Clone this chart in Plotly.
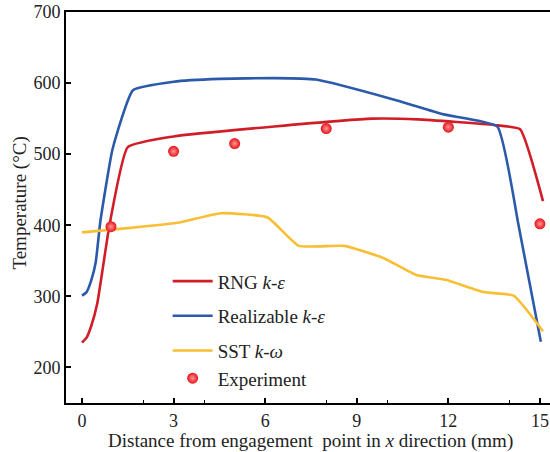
import plotly.graph_objects as go

# Temperature profiles along x (mm) from the engagement point
rng_x = [0.0, 0.15, 0.3, 0.5, 0.7, 0.9, 1.5, 3.0, 6.3, 9.5, 11.0, 13.5, 14.35, 15.1]
rng_t = [235, 242, 258, 290, 345, 400, 510, 525, 539, 550, 549, 541, 535, 434]

real_x = [0.0, 0.15, 0.3, 0.45, 0.6, 1.0, 1.67, 3.0, 4.5, 6.3, 7.66, 10.2, 11.84, 13.6, 14.3, 15.03]
real_t = [301, 306, 322, 348, 405, 507, 590, 602, 606, 607, 605, 577, 556, 539, 400, 236]

sst_x = [0.0, 1.5, 3.2, 4.54, 6.08, 7.1, 8.6, 9.87, 10.95, 11.94, 13.16, 14.14, 15.1]
sst_t = [390, 396, 404, 417, 411, 371, 371, 354, 330, 323, 306, 301, 251]

exp_x = [0.95, 3.0, 5.0, 8.0, 12.0, 15.0]
exp_t = [398, 504, 515, 536, 538, 402]

x_ticks = [0, 3, 6, 9, 12, 15]
y_ticks = [200, 300, 400, 500, 600, 700]

FONT = "Liberation Serif"
TXT = "#222"
RED = "rgb(208,30,40)"
BLUE = "rgb(44,90,170)"
YELLOW = "rgb(248,190,52)"

fig = go.Figure()
fig.add_trace(go.Scatter(x=rng_x, y=rng_t, mode="lines", name="RNG <i>k</i>-<i>ε</i>",
                         legendgroup="a",
                         line=dict(color=RED, width=2.6, shape="spline", smoothing=0.4)))
fig.add_trace(go.Scatter(x=real_x, y=real_t, mode="lines", name="Realizable <i>k</i>-<i>ε</i>",
                         legendgroup="b",
                         line=dict(color=BLUE, width=2.6, shape="spline", smoothing=0.4)))
fig.add_trace(go.Scatter(x=sst_x, y=sst_t, mode="lines", name="SST <i>k</i>-<i>ω</i>",
                         legendgroup="c",
                         line=dict(color=YELLOW, width=2.6, shape="spline", smoothing=0.4)))
fig.add_trace(go.Scatter(x=exp_x, y=exp_t, mode="markers", name="Experiment",
                         legendgroup="c",
                         marker=dict(size=11, color="rgb(230,18,24)",
                                     gradient=dict(type="radial", color="rgb(255,150,150)"),
                                     line=dict(width=0))))

axis_common = dict(
    showline=True, linecolor="black", linewidth=2,
    ticks="inside", ticklen=5, tickwidth=1.5, tickcolor="black",
    showgrid=False, zeroline=False, automargin=False,
    tickfont=dict(family=FONT, size=18, color=TXT),
    minor=dict(ticks="inside", ticklen=3, tickwidth=1.2, tickcolor="black", nticks=2),
)

fig.update_xaxes(**axis_common, range=[-0.524, 15.33], tickvals=x_ticks, mirror=True)
fig.update_yaxes(**axis_common, range=[150, 700], tickvals=y_ticks)

# Axis titles
fig.add_annotation(text="Distance from engagement  point in <i>x</i> direction (mm)",
                   xref="paper", yref="paper", x=0.506, y=-0.0972, xanchor="center",
                   yanchor="middle", showarrow=False,
                   font=dict(family=FONT, size=19, color=TXT))
fig.add_annotation(text="Temperature (°C)", textangle=-90,
                   xref="paper", yref="paper", x=-0.095, y=0.51, xanchor="center",
                   yanchor="middle", showarrow=False,
                   font=dict(family=FONT, size=19, color=TXT))

fig.update_layout(
    width=550, height=452,
    margin=dict(l=66, r=0, t=12, b=49),
    plot_bgcolor="white", paper_bgcolor="white",
    showlegend=True,
    legend=dict(x=0.21, y=0.36, xanchor="left", yanchor="top",
                bgcolor="rgba(0,0,0,0)", itemwidth=40,
                font=dict(family=FONT, size=19, color=TXT),
                tracegroupgap=7),
)

fig.write_html("out.html")
